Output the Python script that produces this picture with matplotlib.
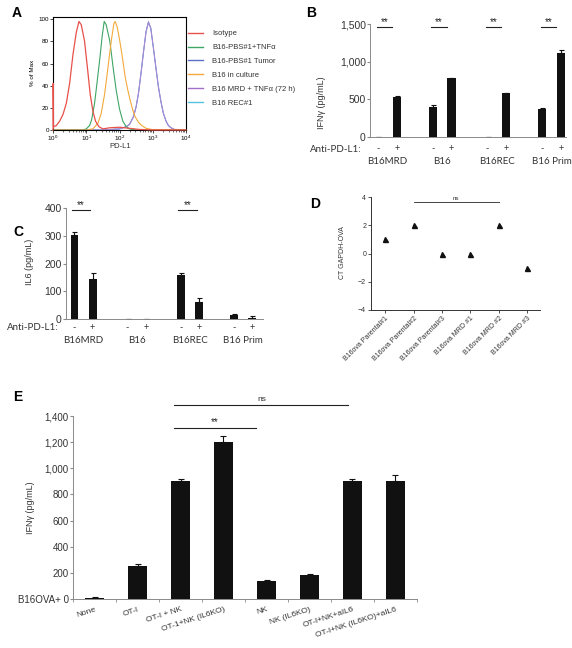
import matplotlib
matplotlib.use("Agg")
import matplotlib.pyplot as plt
import numpy as np

plt.rcParams['font.family'] = ['Liberation Sans', 'DejaVu Sans']

W, H = 572, 648

# ---------------- Panel A data (log10 PD-L1, % of max) ----------------
iso_lx = [0.005, 0.005, 0.015, 0.1, 0.2, 0.3, 0.4, 0.5, 0.6, 0.7, 0.78, 0.85, 0.95, 1.05, 1.12, 1.2, 1.28, 1.38, 1.5, 1.7, 2.0, 2.3, 2.6, 3.0, 4.0]
iso_y = [0, 42, 3, 4, 8, 14, 24, 42, 68, 88, 98, 95, 80, 52, 32, 17, 8, 3, 1, 2, 2.5, 1.5, 0.5, 0, 0]
tnf_lx = [0, 0.9, 1.0, 1.1, 1.16, 1.25, 1.31, 1.41, 1.48, 1.54, 1.6, 1.71, 1.81, 1.9, 2.0, 2.1, 2.2, 2.3, 2.5, 4.0]
tnf_y = [0, 0, 1, 4, 9, 24, 39, 65, 85, 98, 95, 80, 56, 36, 19, 8, 3, 1, 0, 0]
cult_lx = [0, 1.0, 1.2, 1.35, 1.45, 1.55, 1.61, 1.7, 1.76, 1.83, 1.87, 1.93, 2.0, 2.07, 2.17, 2.25, 2.32, 2.4, 2.47, 2.57, 2.67, 2.8, 3.0, 4.0]
cult_y = [0, 0, 1, 6, 15, 32, 46, 68, 82, 96, 98, 93, 82, 69, 48, 36, 27, 18, 12, 7, 4, 1.5, 0.3, 0]
mrd_lx = [0, 1.5, 2.0, 2.1, 2.2, 2.3, 2.42, 2.5, 2.57, 2.65, 2.72, 2.8, 2.87, 2.94, 3.02, 3.1, 3.17, 3.25, 3.32, 3.4, 3.47, 3.55, 3.65, 4.0]
mrd_y = [0, 0, 1, 2, 3, 5, 12, 21, 33, 52, 70, 89, 97, 92, 74, 55, 39, 25, 15, 8, 4, 2, 0.5, 0]
tumor_lx = [0, 1.5, 2.0, 2.2, 2.3, 2.42, 2.5, 2.57, 2.65, 2.72, 2.8, 2.87, 2.94, 3.02, 3.1, 3.17, 3.25, 3.32, 3.4, 3.47, 3.55, 3.65, 4.0]
tumor_y = [0, 0, 1, 3, 5, 12, 21, 33, 52, 70, 89, 98, 92, 74, 55, 39, 25, 15, 8, 4, 2, 0.5, 0]
rec_lx = [0, 1.5, 2.0, 2.2, 2.3, 2.42, 2.5, 2.57, 2.65, 2.72, 2.8, 2.87, 2.94, 3.02, 3.1, 3.17, 3.25, 3.32, 3.4, 3.47, 3.55, 3.65, 4.0]
rec_y = [0, 0, 1, 3, 5, 12, 21, 33, 52, 70, 89, 97, 92, 74, 55, 39, 25, 15, 8, 4, 2, 0.5, 0]
legend_labels = ["Isotype", "B16-PBS#1+TNF\u03b1", "B16-PBS#1 Tumor", "B16 in culture",
                 "B16 MRD + TNF\u03b1 (72 h)", "B16 REC#1"]

# ---------------- Panel B / C data ----------------
groups = ["B16MRD", "B16", "B16REC", "B16 Prim"]
ifng_minus = [3, 400, 3, 370]
ifng_minus_err = [0, 20, 0, 12]
ifng_plus = [530, 780, 580, 1120]
ifng_plus_err = [15, 8, 8, 40]
il6_minus = [302, 0, 157, 15]
il6_minus_err = [10, 0, 8, 4]
il6_plus = [145, 0, 63, 3]
il6_plus_err = [22, 0, 12, 8]
il6_sig_groups = [0, 2]

# ---------------- Panel D data ----------------
d_cats = ["B16ova Parental#1", "B16ova Parental#2", "B16ova Parental#3",
          "B16ova MRD #1", "B16ova MRD #2", "B16ova MRD #3"]
d_vals = [1, 2, 0, 0, 2, -1]

# ---------------- Panel E data ----------------
e_cats = ["None", "OT-I", "OT-I + NK", "OT-1+NK (IL6KO)", "NK", "NK (IL6KO)",
          "OT-I+NK+aIL6", "OT-I+NK (IL6KO)+aIL6"]
e_vals = [10, 250, 905, 1200, 140, 185, 905, 900]
e_err = [8, 15, 15, 50, 8, 8, 15, 45]

fig = plt.figure(figsize=(W / 100, H / 100), dpi=100)


def ax_at(l, t, r, b):
    return fig.add_axes([l / W, 1 - b / H, (r - l) / W, (b - t) / H])


def T(x, y, s, **kw):
    kw.setdefault('ha', 'center')
    kw.setdefault('va', 'center')
    fig.text(x / W, 1 - y / H, s, **kw)


GRAY = '#8a8a8a'
TXT = '#333333'

# ================= Panel A =================
axA = ax_at(53, 17, 186, 130)
curves = [
    (tumor_lx, tumor_y, '#5b6fc4', 0.5, 2),
    (rec_lx, rec_y, '#55c3e0', 0.5, 2),
    (mrd_lx, mrd_y, '#a68ad4', 0.9, 2),
    (tnf_lx, tnf_y, '#3fa565', 0.8, 2),
    (cult_lx, cult_y, '#f3a93c', 0.8, 2),
    (iso_lx, iso_y, '#e8504a', 0.9, 3),
]
for lx, y, c, lw, z in curves:
    axA.plot(10 ** np.array(lx, dtype=float), y, color=c, lw=lw, zorder=z, clip_on=False)
axA.set_xscale('log')
axA.set_xlim(1, 1e4)
axA.set_ylim(0, 102)
axA.set_yticks([0, 20, 40, 60, 80, 100])
axA.tick_params(labelsize=4.5, length=2, width=0.5, pad=1)
axA.tick_params(which='minor', length=1.2, width=0.4)
for s in axA.spines.values():
    s.set_linewidth(0.8)
T(33, 73, "% of Max", rotation=90, fontsize=4.5)
T(120, 146, "PD-L1", fontsize=5.5, color=TXT)
leg_colors = ['#e8504a', '#3fa565', '#5b6fc4', '#f3a93c', '#a070c8', '#55c3e0']
handles = [plt.Line2D([], [], color=c, lw=1.0) for c in leg_colors]
fig.legend(handles, legend_labels, loc='upper left', bbox_to_anchor=(188 / W, 1 - 30 / H),
           frameon=False, fontsize=5.5, handlelength=2.0, labelspacing=0.85,
           handletextpad=1.2, labelcolor=TXT, borderaxespad=0, borderpad=0)


def bar_panel(ax, minus, minus_err, plus, plus_err, ymax, yticks, ylabels, sig_groups,
              sig_y, sig_span, xlim):
    x = np.arange(len(groups))
    off = 0.17
    ax.bar(x - off, minus, width=0.15, color='#111111')
    ax.bar(x + off, plus, width=0.15, color='#111111')
    ax.errorbar(x - off, minus, yerr=[np.zeros(len(x)), minus_err], fmt='none',
                ecolor='#111111', elinewidth=0.8, capsize=1.8, capthick=0.8)
    ax.errorbar(x + off, plus, yerr=[np.zeros(len(x)), plus_err], fmt='none',
                ecolor='#111111', elinewidth=0.8, capsize=1.8, capthick=0.8)
    ax.set_xlim(*xlim)
    ax.set_ylim(0, ymax)
    ax.set_yticks(yticks)
    ax.set_yticklabels(ylabels)
    ax.set_xticks([])
    for s in ['top', 'right']:
        ax.spines[s].set_visible(False)
    for s in ['left', 'bottom']:
        ax.spines[s].set_color(GRAY)
        ax.spines[s].set_linewidth(0.7)
    ax.tick_params(axis='y', labelsize=7.5, length=2, color=GRAY, labelcolor=TXT, pad=1)
    for g in sig_groups:
        ax.plot([g - sig_span[0], g + sig_span[1]], [sig_y, sig_y], color='#222222', lw=0.8,
                clip_on=False)
        ax.text(g - (sig_span[0] - sig_span[1]) / 2, sig_y, "**", ha='center', va='bottom',
                fontsize=7, color='#222222')
    return x, off


# ================= Panel B =================
axB = ax_at(370, 24, 566, 137)
xB, offB = bar_panel(axB, ifng_minus, ifng_minus_err, ifng_plus, ifng_plus_err, 1500,
                     [0, 500, 1000, 1500], ["0", "500", "1,000", "1,500"],
                     [0, 1, 2, 3], 1455, (0.2, 0.08), (-0.32, 3.265))
trB = axB.get_xaxis_transform()
for i, g in enumerate(groups):
    axB.text(i - offB, -0.106, "-", transform=trB, ha='center', va='center', fontsize=6.5,
             color=TXT, family='Lato')
    axB.text(i + offB, -0.106, "+", transform=trB, ha='center', va='center', fontsize=6.5,
             color=TXT, family='Lato')
    axB.text(i, -0.221, g, transform=trB, ha='center', va='center', fontsize=7,
             color=TXT, family='Lato')
T(336, 149, "Anti-PD-L1:", fontsize=7, color=TXT, family='Lato')
T(322, 103, "IFN\u03b3 (pg/mL)", rotation=90, fontsize=6.5, color=TXT)

# ================= Panel C =================
axC = ax_at(66, 208, 263, 319)
xC, offC = bar_panel(axC, il6_minus, il6_minus_err, il6_plus, il6_plus_err, 400,
                     [0, 100, 200, 300, 400], ["0", "100", "200", "300", "400"],
                     il6_sig_groups, 393, (0.22, 0.13), (-0.33, 3.38))
trC = axC.get_xaxis_transform()
for i, g in enumerate(groups):
    axC.text(i - offC, -0.081, "-", transform=trC, ha='center', va='center', fontsize=6.5,
             color=TXT, family='Lato')
    axC.text(i + offC, -0.081, "+", transform=trC, ha='center', va='center', fontsize=6.5,
             color=TXT, family='Lato')
    axC.text(i, -0.198, g, transform=trC, ha='center', va='center', fontsize=7,
             color=TXT, family='Lato')
T(33, 328, "Anti-PD-L1:", fontsize=7, color=TXT, family='Lato')
T(30, 262, "IL6 (pg/mL)", rotation=90, fontsize=6.5, color=TXT)

# ================= Panel D =================
axD = ax_at(371, 197, 540, 310)
xD = np.arange(len(d_cats))
axD.plot(xD, d_vals, linestyle='none', marker='^', markersize=3.6, color='#111111')
axD.set_xlim(-0.5, 5.45)
axD.set_ylim(-4, 4)
axD.set_yticks([-4, -2, 0, 2, 4])
axD.set_xticks(xD)
axD.set_xticklabels(d_cats, rotation=45, ha='right', rotation_mode='anchor')
for s in ['top', 'right']:
    axD.spines[s].set_visible(False)
for s in ['left', 'bottom']:
    axD.spines[s].set_linewidth(0.7)
    axD.spines[s].set_color('#333333')
axD.tick_params(labelsize=5, length=2, width=0.6, pad=1.5, labelcolor=TXT, color='#333333')
axD.plot([1, 4], [3.65, 3.65], color='#222222', lw=0.6)
axD.text(2.5, 3.7, "ns", ha='center', va='bottom', fontsize=4.5, color=TXT)
T(343, 253, "CT GAPDH-OVA", rotation=90, fontsize=5, color=TXT)

# ================= Panel E =================
axE = ax_at(73, 416, 417, 599)
xE = np.arange(len(e_cats))
axE.bar(xE, e_vals, width=0.42, color='#111111')
axE.errorbar(xE, e_vals, yerr=[np.zeros(len(xE)), e_err], fmt='none', ecolor='#111111',
             elinewidth=0.8, capsize=2.2, capthick=0.8)
axE.set_xlim(-0.5, 7.5)
axE.set_ylim(0, 1400)
eticks = [0, 200, 400, 600, 800, 1000, 1200, 1400]
axE.set_yticks(eticks)
axE.set_yticklabels(["B16OVA+ 0"] + [f"{v:,}" for v in eticks[1:]])
axE.set_xticks(xE)
axE.set_xticklabels(e_cats, rotation=18, ha='right', rotation_mode='anchor')
axE.set_xticks(np.arange(-0.5, 8, 1.0), minor=True)
axE.tick_params(axis='x', which='major', length=0, labelsize=6, labelcolor=TXT, pad=5)
axE.tick_params(axis='x', which='minor', length=2.5, color=GRAY, width=0.6)
axE.tick_params(axis='y', labelsize=7, length=2, color=GRAY, labelcolor=TXT, pad=1)
for s in ['top', 'right']:
    axE.spines[s].set_visible(False)
for s in ['left', 'bottom']:
    axE.spines[s].set_color(GRAY)
    axE.spines[s].set_linewidth(0.7)
axE.plot([1.85, 3.75], [1308, 1308], color='#222222', lw=0.8, clip_on=False)
axE.text(2.8, 1318, "**", ha='center', va='bottom', fontsize=7, color='#222222')
axE.plot([1.85, 5.9], [1484, 1484], color='#222222', lw=0.8, clip_on=False)
axE.text(3.88, 1500, "ns", ha='center', va='bottom', fontsize=6, color=TXT)
T(31, 508, "IFN\u03b3 (pg/mL)", rotation=90, fontsize=6.5, color=TXT)

# Panel letters
for x, y, s in [(17, 13, "A"), (311, 13, "B"), (18, 232, "C"), (315, 204, "D"), (18, 397, "E")]:
    T(x, y, s, fontsize=10, fontweight='bold')

fig.savefig("out.png", dpi=100)
